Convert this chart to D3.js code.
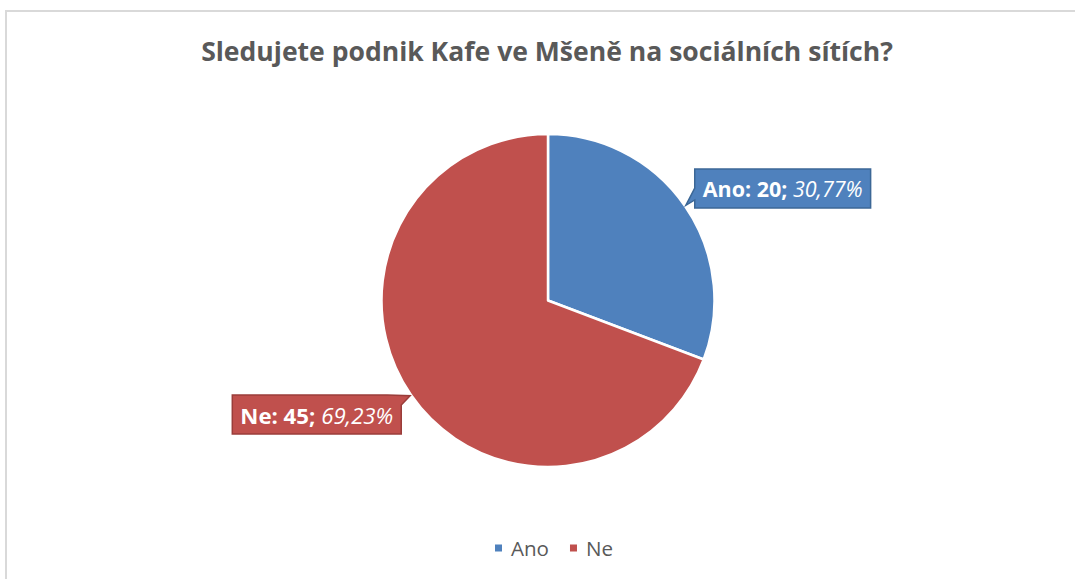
<!DOCTYPE html>
<html>
<head>
<meta charset="utf-8">
<script src="https://cdn.jsdelivr.net/npm/d3@7"></script>
<style>
  html, body { margin: 0; padding: 0; background: #fff; }
  svg { display: block; font-family: "Open Sans", "Noto Sans", sans-serif; }
</style>
</head>
<body>
<svg id="chart" width="1075" height="579"></svg>
<script>
// data
const categories = ['Ano', 'Ne'];
const counts = [20, 45];
const percentLabels = ['30,77%', '69,23%'];
const colors = ['#4f81bd', '#c0504d'];
const borderColors = ['#3c6796', '#9a3d3a'];
const titleText = 'Sledujete podnik Kafe ve Mšeně na sociálních sítích?';

const svg = d3.select('#chart');
const W = 1075, H = 579;

// outer chart frame (runs past the right/bottom edge in the screenshot)
svg.append('rect')
  .attr('x', 6).attr('y', 11)
  .attr('width', W + 20).attr('height', H + 20)
  .attr('fill', '#fff')
  .attr('stroke', '#d9d9d9')
  .attr('stroke-width', 2);

// helper: shrink/grow font so text fits a measured width from the picture
function fitText(sel, targetWidth) {
  const w = sel.node().getComputedTextLength();
  const fs = parseFloat(sel.attr('font-size'));
  sel.attr('font-size', fs * targetWidth / w);
}

// title
const title = svg.append('text')
  .attr('x', 547).attr('y', 61)
  .attr('text-anchor', 'middle')
  .attr('font-size', 24)
  .attr('font-weight', 700)
  .attr('fill', '#595959')
  .text(titleText);
fitText(title, 692);

// pie
const cx = 548, cy = 300.5, radius = 166.5;
const pie = d3.pie().sort(null).value(d => d);
const arcs = pie(counts);
const arc = d3.arc().innerRadius(0).outerRadius(radius);

const g = svg.append('g').attr('transform', `translate(${cx},${cy})`);
g.selectAll('path.slice')
  .data(arcs)
  .join('path')
  .attr('class', 'slice')
  .attr('d', arc)
  .attr('fill', (d, i) => colors[i])
  .attr('stroke', '#fff')
  .attr('stroke-width', 2.5)
  .attr('stroke-linejoin', 'round');

// data label callouts
const labelArc = d3.arc().innerRadius(radius * 1.195).outerRadius(radius * 1.195);
const tipArc = d3.arc().innerRadius(radius + 1).outerRadius(radius + 1);
const boxH = 39, padX = 8;

arcs.forEach((d, i) => {
  const [lx, ly] = labelArc.centroid(d);
  const [tx, ty] = tipArc.centroid(d);
  const right = lx > 0;

  const lg = g.append('g');
  const txt = lg.append('text')
    .attr('font-size', 18)
    .attr('fill', '#fff')
    .attr('dominant-baseline', 'central');
  txt.append('tspan').attr('font-weight', 700)
    .text(`${categories[i]}: ${counts[i]}; `);
  txt.append('tspan').attr('font-style', 'italic')
    .text(percentLabels[i]);
  fitText(txt, right ? 160 : 153);

  const tw = txt.node().getComputedTextLength();
  const boxW = tw + padX * 2;
  const x0 = right ? lx - 17 : lx + 17 - boxW;
  const y0 = ly - boxH / 2 + 1;
  const x1 = x0 + boxW, y1 = y0 + boxH;

  // box with pointer towards the slice
  let p;
  if (right) {
    p = `M${x0},${y0} L${x1},${y0} L${x1},${y1} L${x0},${y1} L${x0},${y1 - 8} L${tx},${ty} L${x0},${y1 - 20} Z`;
  } else {
    p = `M${x0},${y0} L${x1 - 14},${y0} L${tx},${ty} L${x1},${y0 + 10} L${x1},${y1} L${x0},${y1} Z`;
  }
  lg.insert('path', 'text')
    .attr('d', p)
    .attr('fill', colors[i])
    .attr('stroke', borderColors[i])
    .attr('stroke-width', 1.5)
    .attr('stroke-linejoin', 'miter');

  txt.attr('x', x0 + padX).attr('y', (y0 + y1) / 2);
});

// legend
const legend = svg.append('g').attr('transform', 'translate(495,548)');
let lxPos = 0;
let legendFont = null;
categories.forEach((c, i) => {
  const item = legend.append('g').attr('transform', `translate(${lxPos},0)`);
  item.append('rect')
    .attr('x', 0).attr('y', -3.5)
    .attr('width', 7).attr('height', 7)
    .attr('fill', colors[i]);
  const t = item.append('text')
    .attr('x', 16).attr('y', 0)
    .attr('dominant-baseline', 'central')
    .attr('font-size', 18)
    .attr('fill', '#595959')
    .text(c);
  if (legendFont === null) { fitText(t, 38); legendFont = t.attr('font-size'); }
  else t.attr('font-size', legendFont);
  lxPos += 16 + t.node().getComputedTextLength() + 21;
});
</script>
</body>
</html>
